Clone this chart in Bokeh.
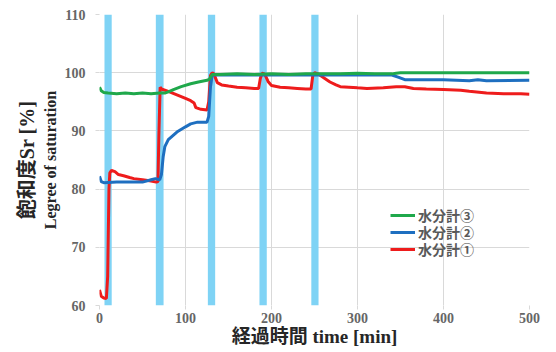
from bokeh.plotting import figure
from bokeh.models import Legend, LegendItem, FixedTicker, Range1d, Title
from bokeh.embed import file_html
from bokeh.resources import INLINE

# ---- data ----
band_start = [5.8, 65.5, 126.0, 186.0, 246.3]
band_end = [14.2, 74.5, 134.5, 194.5, 254.7]

t3 = [0, 2, 5, 10, 20, 30, 40, 50, 60, 70, 76, 80, 86, 95, 106, 115, 125, 128, 131, 140, 160, 180, 200,
      220, 240, 260, 280, 300, 320, 340, 345, 350, 400, 450, 500]
v3 = [97.5, 96.9, 96.6, 96.5, 96.4, 96.5, 96.4, 96.5, 96.4, 96.5, 96.5, 96.7, 97.1, 97.6, 98.1, 98.4,
      98.7, 98.9, 99.7, 99.7, 99.8, 99.7, 99.8, 99.7, 99.8, 99.8, 99.8, 99.9, 99.8, 99.8, 99.9, 100.0,
      100.0, 100.0, 100.0]

t2 = [0, 2, 5, 20, 40, 50, 60, 65, 70, 72, 74, 76, 80, 90, 100, 106, 114, 125, 127, 129, 131, 140,
      200, 260, 300, 340, 348, 355, 400, 430, 440, 450, 500]
v2 = [82.2, 81.3, 81.1, 81.2, 81.2, 81.2, 81.6, 81.8, 81.6, 82.5, 85.5, 87.3, 88.5, 89.8, 90.7, 91.2,
      91.5, 91.5, 92.5, 97.5, 99.6, 99.6, 99.6, 99.6, 99.6, 99.6, 99.2, 98.8, 98.8, 98.6, 98.8, 98.6, 98.7]

t1 = [0, 2, 5, 8, 9.5, 11, 12, 14, 18, 22, 28, 35, 40, 50, 60, 66, 68, 69, 70.5, 72, 80, 90, 100, 106,
      110, 112, 118, 125, 127, 129, 131, 133, 137, 142, 150, 160, 170, 180, 185, 187, 189, 192, 196,
      200, 210, 220, 230, 240, 246, 248, 250, 254, 262, 268, 275, 280, 290, 300, 311, 330, 345, 355,
      365, 380, 400, 420, 430, 450, 470, 490, 500]
v1 = [62.7, 61.6, 61.3, 61.2, 65.0, 80.0, 82.8, 83.2, 83.0, 82.5, 82.3, 82.0, 81.8, 81.6, 81.4, 81.2,
      81.3, 89.0, 97.5, 97.2, 96.8, 96.2, 95.6, 95.2, 94.8, 94.0, 93.7, 93.6, 95.0, 99.5, 100.0, 99.8,
      98.3, 97.9, 97.7, 97.5, 97.4, 97.3, 97.3, 99.0, 99.9, 99.8, 98.5, 97.8, 97.5, 97.4, 97.3, 97.2,
      97.2, 99.5, 100.0, 99.8, 99.0, 98.4, 97.9, 97.6, 97.5, 97.4, 97.3, 97.4, 97.6, 97.6, 97.3, 97.2,
      97.1, 97.0, 96.8, 96.5, 96.4, 96.4, 96.3]

x_ticks = [0, 100, 200, 300, 400, 500]
y_ticks = [60, 70, 80, 90, 100, 110]
labels = ["水分計①", "水分計②", "水分計③"]
colors = ["#ee1c1c", "#1e6fc0", "#1fa84b"]

p = figure(width=556, height=352, output_backend="svg", toolbar_location=None,
           x_range=Range1d(0, 500), y_range=Range1d(60, 110),
           min_border_left=99, min_border_right=27, min_border_top=14, min_border_bottom=47)
p.outline_line_color = None
p.background_fill_color = "white"

p.quad(left=band_start, right=band_end, bottom=60, top=110, fill_color="#7fd3f5", line_color=None)

r1 = p.line(t1, v1, line_color=colors[0], line_width=3)
r2 = p.line(t2, v2, line_color=colors[1], line_width=3)
r3 = p.line(t3, v3, line_color=colors[2], line_width=3)

for ax in (p.xaxis, p.yaxis):
    ax.axis_line_color = None
    ax.major_tick_line_color = "#d9d9d9"
    ax.major_tick_out = 4
    ax.major_tick_in = 0
    ax.minor_tick_line_color = None
    ax.major_label_text_font = "Liberation Serif"
    ax.major_label_text_font_style = "bold"
    ax.major_label_text_font_size = "14px"
    ax.major_label_text_color = "#666666"
p.xaxis.ticker = FixedTicker(ticks=x_ticks)
p.yaxis.ticker = FixedTicker(ticks=y_ticks)
p.xaxis.major_label_standoff = 3
p.yaxis.major_label_standoff = 10
p.xgrid.grid_line_color = "#d9d9d9"
p.ygrid.grid_line_color = "#d9d9d9"

font = "Liberation Serif, Noto Sans CJK JP"
p.xaxis.axis_label = "経過時間 time [min]"
p.xaxis.axis_label_text_font = font
p.xaxis.axis_label_text_font_style = "bold"
p.xaxis.axis_label_text_font_size = "19px"
p.xaxis.axis_label_text_color = "#262626"
p.xaxis.axis_label_standoff = 0

p.yaxis.axis_label = "Legree of saturation"
p.yaxis.axis_label_text_font = "Liberation Serif"
p.yaxis.axis_label_text_font_style = "bold"
p.yaxis.axis_label_text_font_size = "16px"
p.yaxis.axis_label_text_color = "#262626"
p.yaxis.axis_label_standoff = 3

ytitle = Title(text="飽和度Sr [%]", align="center", text_font=font, text_font_style="bold",
               text_font_size="20px", text_color="#262626", standoff=2)
p.add_layout(ytitle, "left")

# one single-item legend per row, so rows can sit close together
rows = [(labels[2], r3, 80), (labels[1], r2, 63), (labels[0], r1, 46)]
for lab, rend, ypos in rows:
    lg = Legend(items=[LegendItem(label=lab, renderers=[rend])], location=(291, ypos))
    lg.label_text_font = "Noto Sans CJK JP"
    lg.label_text_font_style = "bold"
    lg.label_text_font_size = "14px"
    lg.label_text_color = "#595959"
    lg.glyph_width = 25
    lg.glyph_height = 14
    lg.label_height = 14
    lg.label_standoff = 3
    lg.padding = 0
    lg.margin = 0
    lg.border_line_color = None
    lg.background_fill_alpha = 0
    p.add_layout(lg)

open("out.html", "w").write(file_html(p, INLINE))
